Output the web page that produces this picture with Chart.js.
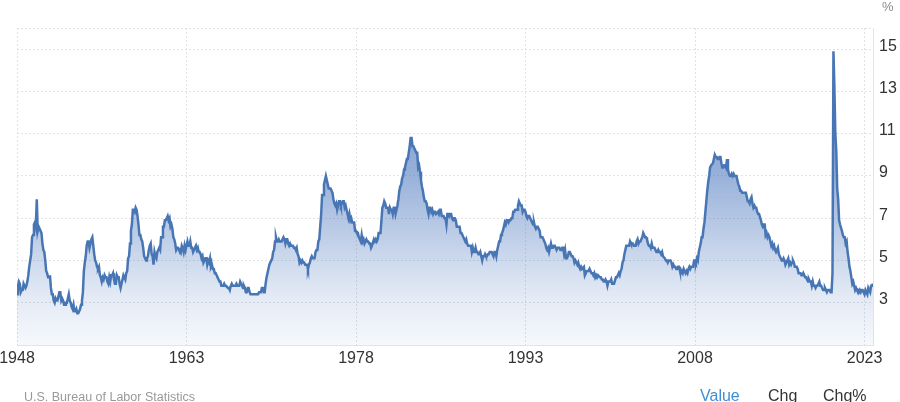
<!DOCTYPE html>
<html>
<head>
<meta charset="utf-8">
<script src="https://cdn.jsdelivr.net/npm/chart.js@4.4.1/dist/chart.umd.min.js"></script>
<style>
    html, body { margin: 0; padding: 0; background: #fff; }
    #wrap { position: relative; width: 900px; height: 402px; overflow: hidden; font-family: "Liberation Sans", Arial, sans-serif; }
    #grafico { position: absolute; left: 0; top: 0; }
    .txt { position: absolute; white-space: nowrap; }
    #unidade { left: 882px; top: 0px; font-size: 13px; line-height: 13px; color: #888; }
    #fonte { left: 24px; top: 391px; font-size: 12.5px; line-height: 13px; color: #999; }
    .aba { top: 388px; font-size: 16px; line-height: 16px; color: #333; }
</style>
</head>
<body>
<div id="wrap">
    <canvas id="grafico" width="900" height="402"></canvas>
    <div class="txt" id="unidade">%</div>
    <div class="txt" id="fonte">U.S. Bureau of Labor Statistics</div>
    <div class="txt aba" style="left:700px;color:#3d8fd8;">Value</div>
    <div class="txt aba" style="left:768px;">Chg</div>
    <div class="txt aba" style="left:823px;">Chg%</div>
</div>
<script>
// ======================= DADOS =======================
// Taxa de desemprego mensal (%), começando em jan/1948
const anoInicial = 1948;

const taxa1940s = [
    3.4, 3.8, 4.0, 3.9, 3.5, 3.6, 3.6, 3.9, 3.8, 3.7, 3.8, 4.0, // 1948
    4.3, 4.7, 5.0, 5.3, 6.1, 6.2, 6.7, 6.8, 6.6, 7.9, 6.4, 6.6, // 1949
];

const taxa1950s = [
    6.5, 6.4, 6.3, 5.8, 5.5, 5.4, 5.0, 4.5, 4.4, 4.2, 4.2, 4.3,
    3.7, 3.4, 3.4, 3.1, 3.0, 3.2, 3.1, 3.1, 3.3, 3.5, 3.5, 3.1,
    3.2, 3.1, 2.9, 2.9, 3.0, 3.0, 3.2, 3.4, 3.1, 3.0, 2.8, 2.7,
    2.9, 2.6, 2.6, 2.7, 2.5, 2.5, 2.6, 2.7, 2.9, 3.1, 3.5, 4.5,
    4.9, 5.2, 5.7, 5.9, 5.9, 5.6, 5.8, 6.0, 6.1, 5.7, 5.3, 5.0,
    4.9, 4.7, 4.6, 4.7, 4.3, 4.2, 4.0, 4.2, 4.1, 4.3, 4.2, 4.2,
    4.0, 3.9, 4.2, 4.0, 4.3, 4.3, 4.4, 4.1, 3.9, 3.9, 4.3, 4.2,
    4.2, 3.9, 3.7, 3.9, 4.1, 4.3, 4.2, 4.1, 4.4, 4.5, 5.1, 5.2,
    5.8, 6.4, 6.7, 7.4, 7.4, 7.3, 7.5, 7.4, 7.1, 6.7, 6.2, 6.2,
    6.0, 5.9, 5.6, 5.2, 5.1, 5.0, 5.1, 5.2, 5.5, 5.7, 5.8, 5.3,
];

const taxa1960s = [
    5.2, 4.8, 5.4, 5.2, 5.1, 5.4, 5.5, 5.6, 5.5, 6.1, 6.1, 6.6,
    6.6, 6.9, 6.9, 7.0, 7.1, 6.9, 7.0, 6.6, 6.7, 6.5, 6.1, 6.0,
    5.8, 5.5, 5.6, 5.6, 5.5, 5.5, 5.4, 5.7, 5.6, 5.4, 5.7, 5.5,
    5.7, 5.9, 5.7, 5.7, 5.9, 5.6, 5.6, 5.4, 5.5, 5.5, 5.7, 5.5,
    5.6, 5.4, 5.4, 5.3, 5.1, 5.2, 4.9, 5.0, 5.1, 5.1, 4.8, 5.0,
    4.9, 5.1, 4.7, 4.8, 4.6, 4.6, 4.4, 4.4, 4.3, 4.2, 4.1, 4.0,
    4.0, 3.8, 3.8, 3.8, 3.9, 3.8, 3.8, 3.8, 3.7, 3.7, 3.6, 3.8,
    3.9, 3.8, 3.8, 3.8, 3.8, 3.9, 3.8, 3.8, 3.8, 4.0, 3.9, 3.8,
    3.7, 3.8, 3.7, 3.5, 3.5, 3.7, 3.7, 3.5, 3.4, 3.4, 3.4, 3.4,
    3.4, 3.4, 3.4, 3.4, 3.4, 3.5, 3.5, 3.5, 3.7, 3.7, 3.5, 3.5,
];

const taxa1970s = [
    3.9, 4.2, 4.4, 4.6, 4.8, 4.9, 5.0, 5.1, 5.4, 5.5, 5.9, 6.1,
    5.9, 5.9, 6.0, 5.9, 5.9, 5.9, 6.0, 6.1, 6.0, 5.8, 6.0, 6.0,
    5.8, 5.7, 5.8, 5.7, 5.7, 5.7, 5.6, 5.6, 5.5, 5.6, 5.3, 5.2,
    4.9, 5.0, 4.9, 5.0, 4.9, 4.9, 4.8, 4.8, 4.8, 4.6, 4.8, 4.9,
    5.1, 5.2, 5.1, 5.1, 5.1, 5.4, 5.5, 5.5, 5.9, 6.0, 6.6, 7.2,
    8.1, 8.1, 8.6, 8.8, 9.0, 8.8, 8.6, 8.4, 8.4, 8.4, 8.3, 8.2,
    7.9, 7.7, 7.6, 7.7, 7.4, 7.6, 7.8, 7.8, 7.6, 7.7, 7.8, 7.8,
    7.5, 7.6, 7.4, 7.2, 7.0, 7.2, 6.9, 7.0, 6.8, 6.8, 6.8, 6.4,
    6.4, 6.3, 6.3, 6.1, 6.0, 5.9, 6.2, 5.9, 6.0, 5.8, 5.9, 6.0,
    5.9, 5.9, 5.8, 5.8, 5.6, 5.7, 5.7, 6.0, 5.9, 6.0, 5.9, 6.0,
];

const taxa1980s = [
    6.3, 6.3, 6.3, 6.9, 7.5, 7.6, 7.8, 7.7, 7.5, 7.5, 7.5, 7.2,
    7.5, 7.4, 7.4, 7.2, 7.5, 7.5, 7.2, 7.4, 7.6, 7.9, 8.3, 8.5,
    8.6, 8.9, 9.0, 9.3, 9.4, 9.6, 9.8, 9.8, 10.1, 10.4, 10.8, 10.8,
    10.4, 10.4, 10.3, 10.2, 10.1, 10.1, 9.4, 9.5, 9.2, 8.8, 8.5, 8.3,
    8.0, 7.8, 7.8, 7.7, 7.4, 7.2, 7.5, 7.5, 7.3, 7.4, 7.2, 7.3,
    7.3, 7.2, 7.2, 7.3, 7.2, 7.4, 7.4, 7.1, 7.1, 7.1, 7.0, 7.0,
    6.7, 7.2, 7.2, 7.1, 7.2, 7.2, 7.0, 6.9, 7.0, 7.0, 6.9, 6.6,
    6.6, 6.6, 6.6, 6.3, 6.3, 6.2, 6.1, 6.0, 5.9, 6.0, 5.8, 5.7,
    5.7, 5.7, 5.7, 5.4, 5.6, 5.4, 5.4, 5.6, 5.4, 5.4, 5.3, 5.3,
    5.4, 5.2, 5.0, 5.2, 5.2, 5.3, 5.2, 5.2, 5.3, 5.3, 5.4, 5.4,
];

const taxa1990s = [
    5.4, 5.3, 5.2, 5.4, 5.4, 5.2, 5.5, 5.7, 5.9, 5.9, 6.2, 6.3,
    6.4, 6.6, 6.8, 6.7, 6.9, 6.9, 6.8, 6.9, 6.9, 7.0, 7.0, 7.3,
    7.3, 7.4, 7.4, 7.4, 7.6, 7.8, 7.7, 7.6, 7.6, 7.3, 7.4, 7.4,
    7.3, 7.1, 7.0, 7.1, 7.1, 7.0, 6.9, 6.8, 6.7, 6.8, 6.6, 6.5,
    6.6, 6.6, 6.5, 6.4, 6.1, 6.1, 6.1, 6.0, 5.9, 5.8, 5.6, 5.5,
    5.6, 5.4, 5.4, 5.8, 5.6, 5.6, 5.7, 5.7, 5.6, 5.5, 5.6, 5.6,
    5.6, 5.5, 5.5, 5.6, 5.6, 5.3, 5.5, 5.1, 5.2, 5.2, 5.4, 5.4,
    5.3, 5.2, 5.2, 5.1, 4.9, 5.0, 4.9, 4.8, 4.9, 4.7, 4.6, 4.7,
    4.6, 4.6, 4.7, 4.3, 4.4, 4.5, 4.5, 4.5, 4.6, 4.5, 4.4, 4.4,
    4.3, 4.4, 4.2, 4.3, 4.2, 4.3, 4.3, 4.2, 4.2, 4.1, 4.1, 4.0,
];

const taxa2000s = [
    4.0, 4.1, 4.0, 3.8, 4.0, 4.0, 4.0, 4.1, 3.9, 3.9, 3.9, 3.9,
    4.2, 4.2, 4.3, 4.4, 4.3, 4.5, 4.6, 4.9, 5.0, 5.3, 5.5, 5.7,
    5.7, 5.7, 5.7, 5.9, 5.8, 5.8, 5.8, 5.7, 5.7, 5.7, 5.9, 6.0,
    5.8, 5.9, 5.9, 6.0, 6.1, 6.3, 6.2, 6.1, 6.1, 6.0, 5.8, 5.7,
    5.7, 5.6, 5.8, 5.6, 5.6, 5.6, 5.5, 5.4, 5.4, 5.5, 5.4, 5.4,
    5.3, 5.4, 5.2, 5.2, 5.1, 5.0, 5.0, 4.9, 5.0, 5.0, 5.0, 4.9,
    4.7, 4.8, 4.7, 4.7, 4.6, 4.6, 4.7, 4.7, 4.5, 4.4, 4.5, 4.4,
    4.6, 4.5, 4.4, 4.5, 4.4, 4.6, 4.7, 4.6, 4.7, 4.7, 4.7, 5.0,
    5.0, 4.9, 5.1, 5.0, 5.4, 5.6, 5.8, 6.1, 6.1, 6.5, 6.8, 7.3,
    7.8, 8.3, 8.7, 9.0, 9.4, 9.5, 9.5, 9.6, 9.8, 10.0, 9.9, 9.9,
];

const taxa2010s = [
    9.8, 9.8, 9.9, 9.9, 9.6, 9.4, 9.4, 9.5, 9.5, 9.4, 9.8, 9.3,
    9.1, 9.0, 9.0, 9.1, 9.0, 9.1, 9.0, 9.0, 9.0, 8.8, 8.6, 8.5,
    8.3, 8.3, 8.2, 8.2, 8.2, 8.2, 8.2, 8.0, 7.8, 7.8, 7.7, 7.9,
    8.0, 7.7, 7.5, 7.6, 7.5, 7.5, 7.3, 7.2, 7.2, 7.2, 6.9, 6.7,
    6.6, 6.7, 6.7, 6.2, 6.3, 6.1, 6.2, 6.1, 5.9, 5.7, 5.8, 5.6,
    5.7, 5.5, 5.4, 5.4, 5.6, 5.3, 5.2, 5.1, 5.0, 5.0, 5.1, 5.0,
    4.8, 4.9, 5.0, 5.1, 4.8, 4.9, 4.8, 4.9, 5.0, 4.9, 4.7, 4.7,
    4.7, 4.6, 4.4, 4.4, 4.4, 4.3, 4.3, 4.4, 4.3, 4.2, 4.2, 4.1,
    4.0, 4.1, 4.0, 4.0, 3.8, 4.0, 3.8, 3.8, 3.7, 3.8, 3.8, 3.9,
    4.0, 3.8, 3.8, 3.7, 3.6, 3.6, 3.7, 3.6, 3.5, 3.6, 3.6, 3.6,
];

const taxa2020s = [
    3.5, 3.5, 4.4, 14.9, 13.2, 11.0, 10.2, 8.4, 7.9, 6.9, 6.7, 6.7,
    6.4, 6.2, 6.1, 6.1, 5.8, 5.9, 5.4, 5.1, 4.7, 4.5, 4.2, 3.9,
    4.0, 3.8, 3.6, 3.7, 3.6, 3.6, 3.5, 3.6, 3.5, 3.6, 3.6, 3.5,
    3.4, 3.6, 3.5, 3.4, 3.7, 3.6, 3.5, 3.8, 3.8, 3.9, // até out/2023
];

// Eixos
const anosEixoX = [1948, 1963, 1978, 1993, 2008, 2023];
const valoresEixoY = [1, 3, 5, 7, 9, 11, 13, 15, 16];
const rotulosEixoY = [3, 5, 7, 9, 11, 13, 15];

// ======================= GRÁFICO =======================
const fonte = '"Liberation Sans", Arial, sans-serif';
const corLinha = '#4876b4';

function montarPontos() {
    const todos = [].concat(taxa1940s, taxa1950s, taxa1960s, taxa1970s,
        taxa1980s, taxa1990s, taxa2000s, taxa2010s, taxa2020s);
    return todos.map((v, i) => ({ x: anoInicial + i / 12, y: v }));
}

// Degradê do preenchimento (mais escuro em cima, quase branco embaixo)
function preenchimento(context) {
    const { ctx, chartArea } = context.chart;
    if (!chartArea) return 'rgba(74,123,183,0.3)';
    const g = ctx.createLinearGradient(0, chartArea.top, 0, chartArea.bottom);
    g.addColorStop(0, 'rgba(74,118,190,0.85)');
    g.addColorStop(0.45, 'rgba(74,118,190,0.58)');
    g.addColorStop(0.85, 'rgba(74,118,190,0.15)');
    g.addColorStop(1, 'rgba(74,118,190,0.05)');
    return g;
}

document.addEventListener('DOMContentLoaded', () => {
    const pontos = montarPontos();
    const ultimoX = pontos[pontos.length - 1].x;
    const ctx = document.getElementById('grafico').getContext('2d');

    new Chart(ctx, {
        type: 'line',
        data: {
            datasets: [{
                data: pontos,
                borderColor: corLinha,
                borderWidth: 2.5,
                pointRadius: 0,
                tension: 0,
                fill: 'start',
                backgroundColor: preenchimento,
            }],
        },
        options: {
            responsive: false,
            animation: false,
            layout: { padding: { top: 28, left: 0, right: 0, bottom: 0 } },
            plugins: {
                legend: { display: false },
                tooltip: { enabled: false },
            },
            scales: {
                x: {
                    type: 'linear',
                    min: anoInicial,
                    max: ultimoX,
                    afterBuildTicks: (s) => { s.ticks = anosEixoX.map((v) => ({ value: v })); },
                    afterFit: (s) => { s.height = 57; s.paddingLeft = 17; s.paddingRight = 0; },
                    ticks: {
                        autoSkip: false,
                        maxRotation: 0,
                        padding: 4,
                        color: '#333',
                        font: { family: fonte, size: 16 },
                        callback: (v) => String(v),
                    },
                    grid: { color: '#e2e2e2', drawTicks: false },
                    border: { display: true, color: '#e3e3e3', dash: [2, 2] },
                },
                y: {
                    position: 'right',
                    min: 1,
                    max: 16,
                    afterBuildTicks: (s) => { s.ticks = valoresEixoY.map((v) => ({ value: v })); },
                    afterFit: (s) => { s.width = 27; s.paddingTop = 0; s.paddingBottom = 0; },
                    ticks: {
                        padding: 6,
                        labelOffset: -3,
                        color: '#333',
                        font: { family: fonte, size: 16 },
                        callback: (v) => (rotulosEixoY.includes(v) ? String(v) : ''),
                    },
                    grid: { color: '#e2e2e2', drawTicks: false },
                    border: { display: true, color: '#e3e3e3', dash: [2, 2] },
                },
            },
        },
    });
});
</script>
</body>
</html>
